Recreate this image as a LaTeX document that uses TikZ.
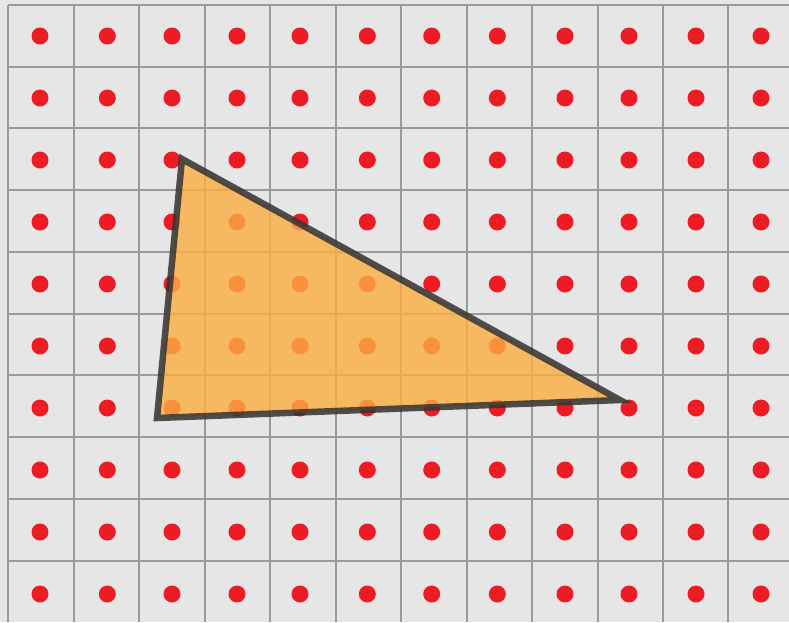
\documentclass[tikz,border=0pt]{standalone}
\definecolor{cellbg}{HTML}{E6E6E6}
\definecolor{gridline}{HTML}{9A9A9A}
\definecolor{dotred}{HTML}{ED1C24}
\definecolor{trifill}{HTML}{FBAE42}
\definecolor{triedge}{HTML}{333333}
\tikzset{
  gridrule/.style={draw=gridline, line width=2pt},
  sampledot/.style={fill=dotred},
  tri/.style={fill=trifill, fill opacity=0.8, draw=triedge, draw opacity=0.85, line width=6.5pt, line join=miter},
}
\begin{document}
\begin{tikzpicture}[x=1pt,y=-1pt]
\useasboundingbox (0,0) rectangle (789,622);
\fill[cellbg] (0,0) rectangle (789,622);
\foreach \xx in {8,73.5,139.2,204.8,270.2,335.7,401.2,466.7,532.3,597.8,663,728.4} {
  \draw[gridrule] (\xx,5) -- (\xx,622);
}
\foreach \yy in {5,66.7,128.4,190.1,251.8,313.5,375.2,436.9,498.6,560.5} {
  \draw[gridrule] (8,\yy) -- (789,\yy);
}
\foreach \xx in {40,107.3,172,237,300,367.3,431.7,497.3,565,629,696,761} {
  \foreach \yy in {36,98,160,222,284,346,408,470,532,594} {
    \fill[sampledot] (\xx,\yy) circle (8.5);
  }
}
\coordinate (A) at (182,159);
\coordinate (B) at (157,418);
\coordinate (C) at (620,400);
\path[tri] (A) -- (B) -- (C) -- cycle;
\end{tikzpicture}
\end{document}
